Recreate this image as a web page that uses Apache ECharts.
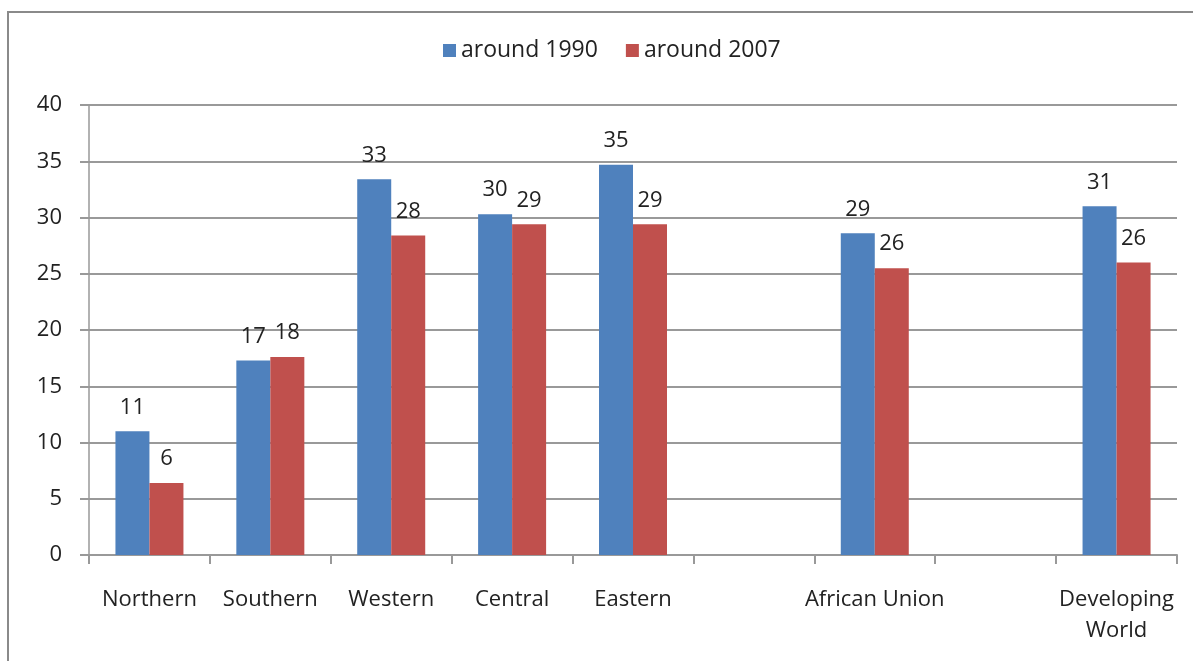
<!DOCTYPE html>
<html>
<head>
<meta charset="utf-8">
<script src="https://cdn.jsdelivr.net/npm/echarts@6/dist/echarts.min.js"></script>
<style>
  html, body { margin: 0; padding: 0; background: #fff; }
  #chart { width: 1193px; height: 661px; }
</style>
</head>
<body>
<div id="chart"></div>
<script>
var categories = ['Northern', 'Southern', 'Western', 'Central', 'Eastern', '', 'African Union', '', 'Developing\nWorld'];
var around1990 = [11.0, 17.3, 33.4, 30.3, 34.7, null, 28.6, null, 31.0];
var around2007 = [6.4, 17.6, 28.4, 29.4, 29.4, null, 25.5, null, 26.0];
var seriesNames = ['around 1990', 'around 2007'];
var yTicks = [0, 40, 5];

var font = '"Open Sans", Lato, sans-serif';
var chart = echarts.init(document.getElementById('chart'));

function labelFmt(p) {
  return p.value == null ? '' : Math.round(p.value);
}

var option = {
  backgroundColor: '#fff',
  animation: false,
  textStyle: { fontFamily: font },
  graphic: [{
    type: 'rect',
    shape: { x: 8, y: 12, width: 1200, height: 700 },
    style: { fill: 'none', stroke: '#8a8a8a', lineWidth: 2 },
    silent: true
  }],
  legend: {
    top: 34,
    left: 438,
    itemWidth: 13,
    itemHeight: 13,
    itemGap: 28,
    icon: 'rect',
    textStyle: { fontSize: 23, color: '#222', fontFamily: font },
    data: seriesNames
  },
  grid: { left: 89, right: 16, top: 105, bottom: 106, containLabel: false },
  xAxis: {
    type: 'category',
    data: categories,
    axisLine: { lineStyle: { color: '#999', width: 2 } },
    axisTick: { show: true, length: 9, lineStyle: { color: '#999', width: 2 } },
    axisLabel: { fontSize: 22, color: '#222', margin: 29, lineHeight: 31, interval: 0 },
    splitLine: { show: false }
  },
  yAxis: {
    type: 'value',
    min: yTicks[0],
    max: yTicks[1],
    interval: yTicks[2],
    axisLine: { show: true, lineStyle: { color: '#999', width: 1.5 } },
    axisTick: { show: true, length: 9, lineStyle: { color: '#999', width: 2 } },
    axisLabel: { fontSize: 22, color: '#222', margin: 27 },
    splitLine: { show: true, lineStyle: { color: '#999', width: 2 } }
  },
  series: [
    {
      name: seriesNames[0],
      type: 'bar',
      data: around1990,
      barWidth: 34,
      barGap: '0%',
      itemStyle: { color: '#4F81BD' },
      label: { show: true, position: 'top', distance: 13, fontSize: 22, color: '#222', formatter: labelFmt }
    },
    {
      name: seriesNames[1],
      type: 'bar',
      data: around2007,
      barWidth: 34,
      barGap: '0%',
      itemStyle: { color: '#C0504D' },
      label: { show: true, position: 'top', distance: 13, fontSize: 22, color: '#222', formatter: labelFmt }
    }
  ]
};

chart.setOption(option);
</script>
</body>
</html>
